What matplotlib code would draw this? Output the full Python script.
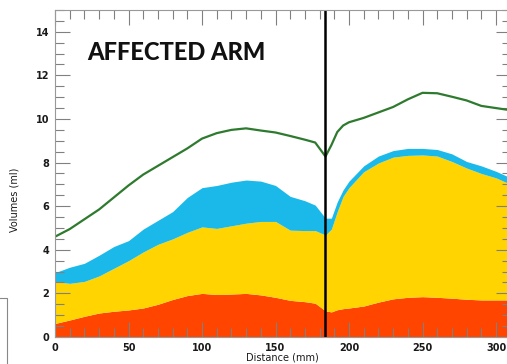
import numpy as np
import matplotlib
matplotlib.use('Agg')
import matplotlib.pyplot as plt
from matplotlib.lines import Line2D
from matplotlib.ticker import MultipleLocator

# distance along the arm (mm)
distance = [0, 10, 20, 30, 40, 50, 60, 70, 80, 90, 100, 110, 120, 130, 140, 150,
            160, 170, 177, 184, 188, 192, 196, 200, 210, 220, 230, 240, 250, 260,
            270, 280, 290, 300, 310]

# upper edge of each stacked layer (ml)
red_top = [0.62, 0.78, 0.95, 1.10, 1.18, 1.24, 1.33, 1.50, 1.72, 1.90, 2.00, 1.95,
           1.97, 2.00, 1.93, 1.82, 1.68, 1.62, 1.55, 1.20, 1.15, 1.25, 1.30, 1.33,
           1.42, 1.60, 1.75, 1.82, 1.85, 1.82, 1.78, 1.73, 1.70, 1.70, 1.70]
gold_top = [2.54, 2.46, 2.55, 2.80, 3.15, 3.50, 3.90, 4.25, 4.50, 4.80, 5.05, 4.98,
            5.10, 5.22, 5.30, 5.30, 4.90, 4.88, 4.88, 4.68, 4.95, 5.75, 6.45, 6.85,
            7.58, 7.98, 8.25, 8.33, 8.35, 8.30, 8.05, 7.75, 7.50, 7.30, 7.00]
blue_top = [2.95, 3.20, 3.38, 3.75, 4.15, 4.42, 4.95, 5.35, 5.75, 6.40, 6.85, 6.95,
            7.10, 7.20, 7.15, 6.95, 6.45, 6.25, 6.05, 5.45, 5.45, 6.20, 6.75, 7.15,
            7.85, 8.30, 8.55, 8.65, 8.65, 8.60, 8.40, 8.05, 7.85, 7.60, 7.30]
# total volume (green line)
total = [4.60, 4.95, 5.40, 5.85, 6.40, 6.95, 7.45, 7.85, 8.25, 8.65, 9.10, 9.35,
         9.50, 9.57, 9.47, 9.38, 9.22, 9.05, 8.92, 8.28, 8.80, 9.40, 9.70, 9.85,
         10.05, 10.30, 10.55, 10.90, 11.20, 11.18, 11.02, 10.85, 10.60, 10.50, 10.40]

marker_pos = 184
title = 'AFFECTED ARM'

x = np.array(distance)
zeros = np.zeros(len(x))

fig = plt.figure(figsize=(5.07, 3.64), dpi=100)
ax = fig.add_axes([0.1085, 0.0742, 0.8988, 0.8984])

ax.fill_between(x, zeros, red_top, color='#ff4500', lw=0)
ax.fill_between(x, red_top, gold_top, color='#ffd400', lw=0)
ax.fill_between(x, gold_top, blue_top, color='#1ab9ea', lw=0)
ax.plot(x, total, color='#2e7a2e', lw=1.6)
ax.axvline(marker_pos, color='black', lw=1.8)

ax.set_xlim(0, 310)
ax.set_ylim(0, 15)
ax.xaxis.set_major_locator(MultipleLocator(50))
ax.xaxis.set_minor_locator(MultipleLocator(10))
ax.yaxis.set_minor_locator(MultipleLocator(0.5))
ax.set_yticks([0, 2, 4, 6, 8, 10, 12, 14])

ax.tick_params(which='both', direction='in', top=True, right=True, color='#808080', width=0.8)
ax.tick_params(which='major', length=11, labelsize=7, labelcolor='#1a1a1a', pad=4)
ax.tick_params(which='minor', length=6.5)
for lbl in ax.get_xticklabels() + ax.get_yticklabels():
    lbl.set_fontweight('semibold')
for s in ax.spines.values():
    s.set_color('#999999')
    s.set_linewidth(0.8)

ax.set_xlabel('Distance (mm)', fontsize=7, color='#1a1a1a', labelpad=0)
ax.set_ylabel('Volumes (ml)', fontsize=7, color='#1a1a1a')
ax.yaxis.set_label_coords(-0.077, 0.42)

ax.text(22, 12.7, title, fontsize=17, fontweight='black', family='Lato', color='#111111')

# stray frame corner at the bottom left
fig.add_artist(Line2D([0, 7 / 507, 7 / 507], [1 - 298 / 364, 1 - 298 / 364, 0],
                      transform=fig.transFigure, color='#888888', lw=0.8))

fig.savefig('out.png', dpi=100)
